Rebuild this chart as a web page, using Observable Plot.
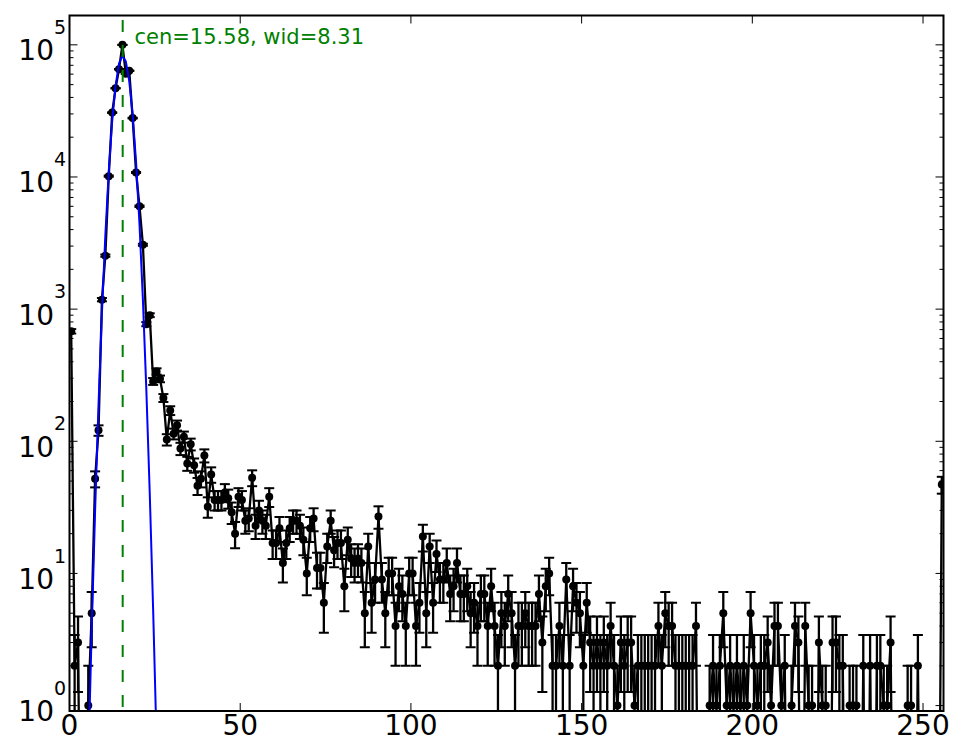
<!DOCTYPE html>
<html><head><meta charset="utf-8">
<script src="https://cdn.jsdelivr.net/npm/d3@7"></script>
<script src="https://cdn.jsdelivr.net/npm/@observablehq/plot@0.6"></script>
<style>body{margin:0;background:#fff} #chart{width:965px;height:756px}</style>
</head><body><div id="chart"></div>
<script>
// Histogram counts per bin (bins 0..255, centred at i+0.5)
const counts = [
  680, 2, 3, 0, 0, 1, 5, 52, 121, 1180,
  2540, 10150, 30700, 47000, 65400, 100000, 60400, 63600, 27900, 10800,
  6010, 3070, 770, 900, 284, 338, 297, 213, 103, 171,
  114, 132, 88, 108, 68, 95, 66, 46, 52, 78,
  32, 56, 36, 36, 36, 41, 37, 29, 20, 38,
  36, 25, 26, 53, 23, 30, 25, 23, 38, 17,
  17, 22, 12, 17, 22, 25, 25, 23, 18, 10,
  22, 26, 11, 11, 6, 16, 25, 15, 17, 17,
  8, 18, 13, 12, 13, 12, 5, 16, 6, 9,
  27, 9, 5, 10, 10, 4, 8, 7, 4, 10,
  10, 4, 6, 19, 5, 16, 6, 14, 9, 9,
  12, 7, 8, 12, 7, 7, 8, 5, 6, 4,
  7, 7, 4, 8, 4, 2, 5, 4, 7, 5,
  2, 4, 4, 5, 4, 4, 4, 7, 3, 8,
  10, 2, 2, 4, 2, 9, 2, 8, 6, 5,
  2, 6, 3, 2, 3, 2, 3, 2, 4, 2,
  1, 3, 2, 3, 3, 1, 2, 2, 2, 2,
  2, 2, 4, 2, 5, 4, 4, 2, 2, 2,
  2, 2, 2, 4, 0, 0, 0, 1, 2, 1,
  2, 5, 1, 2, 1, 2, 1, 2, 1, 5,
  2, 1, 2, 2, 3, 1, 4, 4, 1, 2,
  0, 1, 4, 3, 0, 4, 1, 1, 0, 3,
  1, 1, 0, 3, 3, 2, 2, 0, 1, 1,
  1, 0, 2, 0, 2, 0, 2, 2, 1, 1,
  3, 0, 0, 0, 0, 1, 1, 0, 2, 0,
  0, 0, 0, 0, 0, 47
];
const binCenters = counts.map((_, i) => i + 0.5);

// Gaussian fit curve, read at the bin centres
const fitX = [4.5, 5.5, 6.5, 7.5, 8.5, 9.5, 10.5, 11.5, 12.5, 13.5, 14.5, 15.5,
              16.5, 17.5, 18.5, 19.5, 20.5, 21.5, 22.5, 23.5, 24.5, 25.5, 26.5];
const fitY = [0.028, 0.37, 3.7, 30, 189, 934, 3620, 11000, 26300, 49100, 72000, 82900,
              74900, 53100, 29500, 12900, 4400, 1180, 248, 41, 5.3, 0.54, 0.043];
const fitCenter = 15.58;
const fitWidth = 8.31;

const xTicks = [0, 50, 100, 150, 200, 250];
const yExponents = [0, 1, 2, 3, 4, 5];

const yMin = 0.91, yMax = 166700;
const yMajor = yExponents.map(e => 10 ** e);
const yMinor = [];
for (let e = -1; e <= 5; e++) for (let m = 2; m <= 9; m++) {
  const v = m * 10 ** e;
  if (v > yMin && v < yMax) yMinor.push(v);
}

const rows = counts.map((n, i) => ({
  x: binCenters[i], n,
  yl: n > 0 ? n : 0.01,
  lo: Math.max(n - Math.sqrt(n), 0.05),
  hi: n + Math.sqrt(n)
}));
const pts = rows.filter(d => d.n > 0);
const fit = fitX.map((x, i) => ({x, y: fitY[i]}));

// custom symbols: error-bar cap and inward tick marks
const cap = {draw(ctx) { ctx.moveTo(-5, 0); ctx.lineTo(5, 0); }};
const hTick = len => ({draw(ctx) { ctx.moveTo(0, 0); ctx.lineTo(len, 0); }});
const vTick = len => ({draw(ctx) { ctx.moveTo(0, 0); ctx.lineTo(0, len); }});
const tk = {stroke: "black", fill: "none", strokeWidth: 1};

const chart = Plot.plot({
  width: 965, height: 756,
  marginLeft: 69, marginRight: 22, marginTop: 15, marginBottom: 45.5,
  style: {fontFamily: "DejaVu Sans", background: "white", color: "black", overflow: "visible"},
  x: {domain: [0, 256], axis: null},
  y: {type: "log", domain: [yMin, yMax], axis: null},
  marks: [
    Plot.ruleX(pts, {x: "x", y1: "lo", y2: "hi", stroke: "black", strokeWidth: 2.3, clip: true}),
    Plot.line(rows, {x: "x", y: "yl", stroke: "black", strokeWidth: 2.3, clip: true}),
    Plot.dot(pts, {x: "x", y: "hi", symbol: cap, stroke: "black", fill: "none", strokeWidth: 2, clip: true}),
    Plot.dot(pts, {x: "x", y: "lo", symbol: cap, stroke: "black", fill: "none", strokeWidth: 2, clip: true}),
    Plot.dot(pts, {x: "x", y: "n", r: 4, fill: "black", stroke: "none", clip: true}),
    Plot.line(fit, {x: "x", y: "y", stroke: "blue", strokeWidth: 2, clip: true}),
    Plot.ruleX([fitCenter], {stroke: "green", strokeWidth: 2, strokeDasharray: "12,13", strokeDashoffset: 20}),
    // ticks (inside the frame, all four sides)
    Plot.dot(xTicks, {x: d => d, frameAnchor: "bottom", symbol: vTick(-8), ...tk}),
    Plot.dot(xTicks, {x: d => d, frameAnchor: "top", symbol: vTick(8), ...tk}),
    Plot.dot(yMajor, {y: d => d, frameAnchor: "left", symbol: hTick(8), ...tk}),
    Plot.dot(yMajor, {y: d => d, frameAnchor: "right", symbol: hTick(-8), ...tk}),
    Plot.dot(yMinor, {y: d => d, frameAnchor: "left", symbol: hTick(4), ...tk}),
    Plot.dot(yMinor, {y: d => d, frameAnchor: "right", symbol: hTick(-4), ...tk}),
    Plot.frame({stroke: "black", strokeWidth: 2}),
    // tick labels
    Plot.text(xTicks, {x: d => d, frameAnchor: "bottom", lineAnchor: "middle", dy: 15, fontSize: 28, text: d => String(d), fill: "black"}),
    Plot.text(yExponents, {y: e => 10 ** e, frameAnchor: "left", lineAnchor: "middle", dx: -15.5, dy: 6.5, textAnchor: "end", fontSize: 28, text: () => "10", fill: "black"}),
    Plot.text(yExponents, {y: e => 10 ** e, frameAnchor: "left", lineAnchor: "middle", dx: -15.6, dy: -17, textAnchor: "start", fontSize: 19, text: e => String(e), fill: "black"}),
    Plot.text([`cen=${fitCenter}, wid=${fitWidth}`], {frameAnchor: "top-left", lineAnchor: "middle", dx: 65, dy: 22, textAnchor: "start", fontSize: 21, fill: "green", text: d => d})
  ]
});
document.getElementById("chart").appendChild(chart);
</script>
</body></html>
